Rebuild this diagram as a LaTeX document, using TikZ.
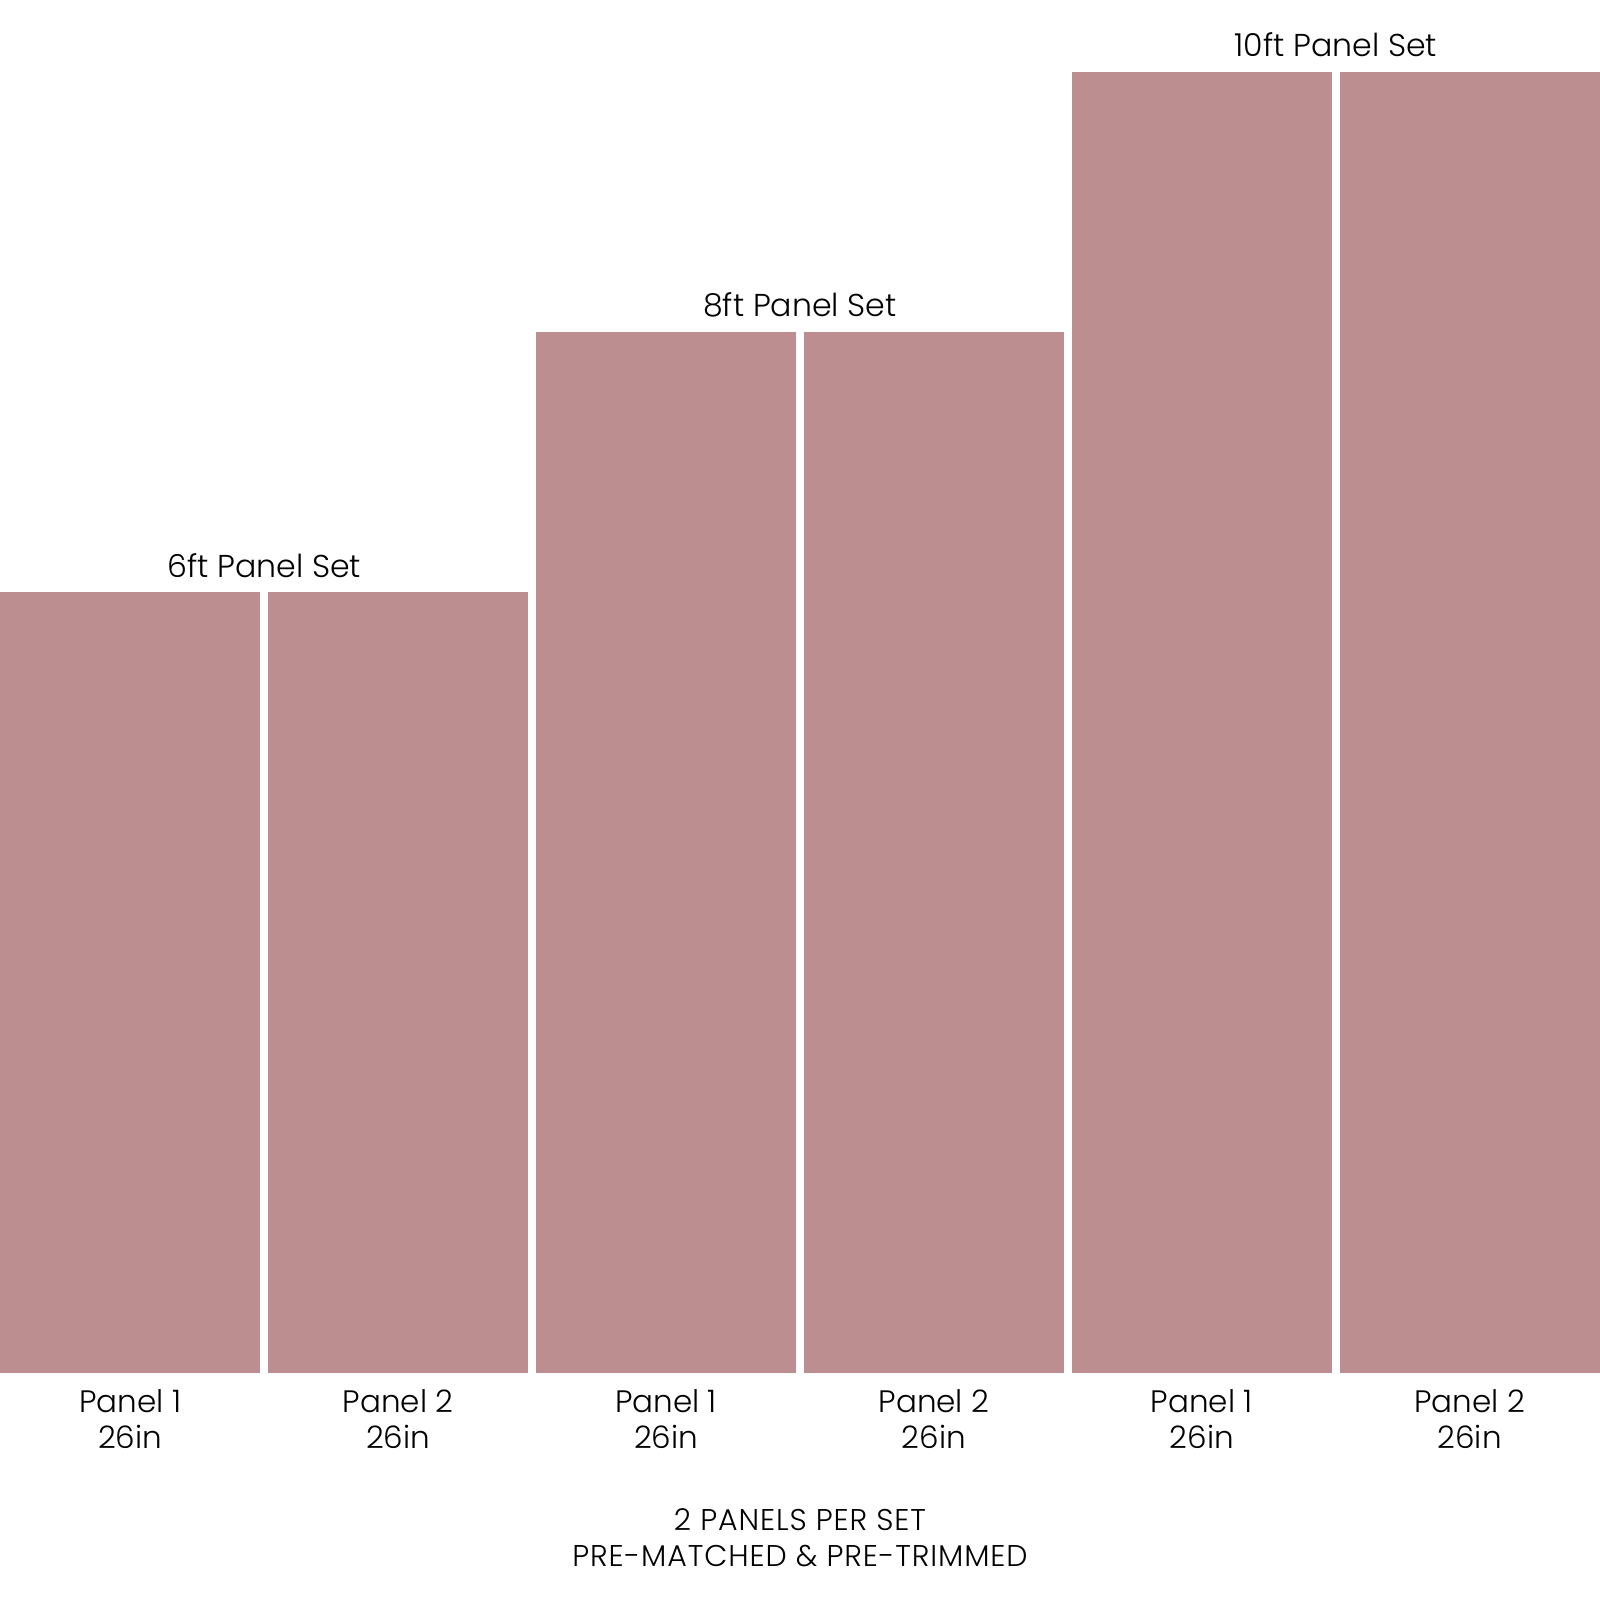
\documentclass[tikz,border=0pt]{standalone}
\usepackage{fontspec}
\setmainfont{Poppins}[UprightFont={* Light}]
\usepackage{tikz}
\usetikzlibrary{
	positioning,
	}
\definecolor{panelpink}{RGB}{189,142,144}

\begin{document}
\begin{tikzpicture}[x=1pt, y=1pt,
		panel/.style={fill=panelpink, inner sep=0pt, outer sep=0pt, minimum width=130.2pt, anchor=south west},
		settitle/.style={inner sep=0pt, anchor=base, font=\fontsize{15.8}{19}\selectfont},
		panellabel/.style={inner sep=0pt, align=center, font=\fontsize{15.5}{18}\selectfont},
	]
		\path[use as bounding box, fill=white] (0,0) rectangle (800,800);
		% 6ft set
		\node[panel, minimum height=390.25pt] (p6a) at (0,113.5) {};
		\node[panel, minimum height=390.25pt] (p6b) at (133.95,113.5) {};
		\node[settitle] (t6) at (132.075,511.25) {6ft Panel Set};
		% 8ft set
		\node[panel, minimum height=520.5pt] (p8a) at (267.9,113.5) {};
		\node[panel, minimum height=520.5pt] (p8b) at (401.85,113.5) {};
		\node[settitle] (t8) at (399.975,641.5) {8ft Panel Set};
		% 10ft set
		\node[panel, minimum height=650.5pt] (p10a) at (535.8,113.5) {};
		\node[panel, minimum height=650.5pt] (p10b) at (669.75,113.5) {};
		\node[settitle] (t10) at (667.875,771.5) {10ft Panel Set};
		% labels under the panels
		\node[panellabel, below=8pt of p6a.south] (l6a) {Panel 1\\26in};
		\node[panellabel, below=8pt of p6b.south] (l6b) {Panel 2\\26in};
		\node[panellabel, below=8pt of p8a.south] (l8a) {Panel 1\\26in};
		\node[panellabel, below=8pt of p8b.south] (l8b) {Panel 2\\26in};
		\node[panellabel, below=8pt of p10a.south] (l10a) {Panel 1\\26in};
		\node[panellabel, below=8pt of p10b.south] (l10b) {Panel 2\\26in};
		\node[inner sep=0pt, anchor=north, align=center, font=\fontsize{15}{18}\selectfont\addfontfeatures{LetterSpace=3}] (note) at (400,46) {2 PANELS PER SET\\PRE-MATCHED \& PRE-TRIMMED};
	\end{tikzpicture}
\end{document}
